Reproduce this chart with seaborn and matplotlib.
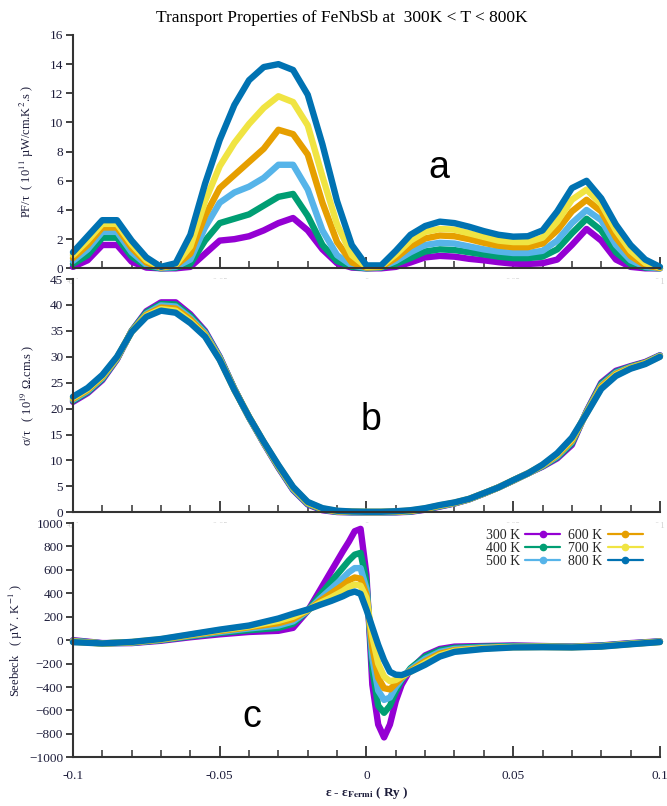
import pandas as pd
import matplotlib
matplotlib.use("Agg")
import matplotlib.pyplot as plt
from matplotlib.lines import Line2D
from matplotlib.ticker import MultipleLocator
import seaborn as sns

# --- DATA ---
TEMPS = ["300 K", "400 K", "500 K", "600 K", "700 K", "800 K"]
COLORS = ["#9400d3", "#009e73", "#56b4e9", "#e69f00", "#f0e442", "#0072b2"]

ENERGY_AB = [-0.1, -0.095, -0.09, -0.085, -0.08, -0.075, -0.07, -0.065, -0.06, -0.055,
             -0.05, -0.045, -0.04, -0.035, -0.03, -0.025, -0.02, -0.015, -0.01, -0.005,
             0.0, 0.005, 0.01, 0.015, 0.02, 0.025, 0.03, 0.035, 0.04, 0.045,
             0.05, 0.055, 0.06, 0.065, 0.07, 0.075, 0.08, 0.085, 0.09, 0.095, 0.1]

# (a) power factor / tau
PF_300 = [0.1, 0.55, 1.6, 1.6, 0.45, 0.05, 0.0, 0.0, 0.1, 1.0, 1.9, 2.0, 2.2, 2.6, 3.1, 3.45,
          2.6, 1.3, 0.35, 0.05, 0.0, 0.0, 0.1, 0.4, 0.75, 0.85, 0.8, 0.65, 0.55, 0.42,
          0.32, 0.3, 0.35, 0.6, 1.6, 2.7, 1.9, 0.6, 0.1, 0.0, 0.0]
PF_400 = [0.3, 0.9, 2.1, 2.1, 0.8, 0.15, 0.0, 0.05, 0.3, 1.9, 3.1, 3.4, 3.7, 4.3, 4.9, 5.1,
          3.6, 1.6, 0.5, 0.1, 0.0, 0.05, 0.3, 0.7, 1.15, 1.3, 1.25, 1.1, 0.95, 0.8,
          0.7, 0.7, 0.8, 1.3, 2.4, 3.4, 2.6, 1.1, 0.3, 0.05, 0.0]
PF_500 = [0.5, 1.3, 2.5, 2.5, 1.1, 0.25, 0.02, 0.1, 0.6, 2.8, 4.5, 5.2, 5.6, 6.2, 7.1, 7.1,
          5.4, 2.6, 0.9, 0.2, 0.02, 0.08, 0.5, 1.1, 1.6, 1.75, 1.7, 1.5, 1.3, 1.15,
          1.05, 1.05, 1.2, 1.9, 3.1, 4.0, 3.3, 1.6, 0.55, 0.1, 0.0]
PF_600 = [0.7, 1.6, 2.8, 2.8, 1.4, 0.4, 0.05, 0.2, 1.0, 3.6, 5.5, 6.4, 7.3, 8.2, 9.5, 9.2,
          7.8, 4.5, 1.8, 0.4, 0.05, 0.1, 0.7, 1.5, 2.05, 2.25, 2.2, 2.0, 1.75, 1.55,
          1.45, 1.45, 1.7, 2.6, 3.9, 4.7, 3.9, 2.1, 0.85, 0.2, 0.02]
PF_700 = [0.9, 1.9, 3.05, 3.05, 1.65, 0.55, 0.08, 0.25, 1.5, 4.6, 7.0, 8.6, 9.9, 11.0, 11.8, 11.4,
          9.8, 6.3, 3.0, 0.9, 0.1, 0.15, 0.95, 1.9, 2.5, 2.7, 2.65, 2.4, 2.15, 1.9,
          1.8, 1.8, 2.1, 3.2, 4.7, 5.4, 4.4, 2.6, 1.2, 0.35, 0.05]
PF_800 = [1.1, 2.2, 3.3, 3.3, 1.9, 0.75, 0.1, 0.35, 2.3, 5.8, 8.8, 11.2, 12.9, 13.8, 14.0, 13.6,
          11.9, 8.5, 4.6, 1.6, 0.2, 0.2, 1.2, 2.3, 2.9, 3.2, 3.1, 2.85, 2.55, 2.3,
          2.17, 2.2, 2.6, 3.9, 5.5, 6.0, 4.8, 3.0, 1.6, 0.6, 0.1]

# (b) electrical conductivity / tau
SIG_300 = [21.3, 23.0, 25.5, 29.5, 35.0, 38.8, 40.5, 40.5, 38.2, 35.0, 30.0, 23.8, 18.3, 13.3,
           8.6, 4.3, 1.5, 0.4, 0.05, 0.0, 0.0, 0.0, 0.0, 0.1, 0.5, 1.1, 1.7, 2.5, 3.6, 4.8,
           6.1, 7.5, 8.8, 10.4, 13.0, 19.5, 25.0, 27.3, 28.2, 29.0, 30.3]
SIG_400 = [21.5, 23.2, 25.7, 29.6, 35.0, 38.6, 40.2, 40.1, 37.9, 34.8, 29.9, 23.8, 18.3, 13.4,
           8.7, 4.4, 1.6, 0.5, 0.1, 0.03, 0.02, 0.02, 0.04, 0.16, 0.56, 1.16, 1.74, 2.52, 3.62, 4.8,
           6.12, 7.5, 8.88, 10.6, 13.3, 19.4, 24.8, 27.1, 28.1, 28.9, 30.24]
SIG_500 = [21.7, 23.4, 25.9, 29.7, 34.9, 38.3, 39.9, 39.7, 37.5, 34.6, 29.8, 23.7, 18.3, 13.4,
           8.8, 4.5, 1.7, 0.56, 0.15, 0.06, 0.04, 0.04, 0.08, 0.22, 0.62, 1.22, 1.78, 2.54, 3.64, 4.8,
           6.14, 7.5, 8.96, 10.8, 13.6, 19.3, 24.5, 26.9, 28.0, 28.8, 30.2]
SIG_600 = [21.9, 23.6, 26.1, 29.8, 34.9, 38.1, 39.5, 39.3, 37.2, 34.3, 29.6, 23.7, 18.4, 13.5,
           8.9, 4.7, 1.8, 0.64, 0.2, 0.09, 0.06, 0.06, 0.12, 0.28, 0.68, 1.28, 1.82, 2.56, 3.66, 4.8,
           6.16, 7.5, 9.04, 11.0, 13.8, 19.2, 24.3, 26.7, 27.9, 28.8, 30.1]
SIG_700 = [22.1, 23.8, 26.3, 29.9, 34.8, 37.9, 39.2, 38.9, 36.8, 34.1, 29.5, 23.6, 18.4, 13.5,
           9.0, 4.8, 1.9, 0.72, 0.25, 0.12, 0.08, 0.08, 0.16, 0.34, 0.74, 1.34, 1.86, 2.58, 3.68, 4.8,
           6.18, 7.5, 9.12, 11.2, 14.1, 19.1, 24.0, 26.5, 27.8, 28.7, 30.06]
SIG_800 = [22.3, 24.0, 26.5, 30.0, 34.8, 37.7, 38.9, 38.5, 36.5, 33.9, 29.4, 23.6, 18.4, 13.6,
           9.1, 4.9, 2.0, 0.8, 0.3, 0.15, 0.1, 0.1, 0.2, 0.4, 0.8, 1.4, 1.9, 2.6, 3.7, 4.8,
           6.2, 7.5, 9.2, 11.4, 14.4, 19.0, 23.8, 26.3, 27.7, 28.6, 30.0]

# (c) Seebeck coefficient (finer grid near the Fermi level)
ENERGY_C = [-0.1, -0.09, -0.08, -0.07, -0.06, -0.05, -0.04, -0.03, -0.025, -0.02,
            -0.016, -0.012, -0.008, -0.006, -0.004, -0.002, 0.0, 0.002, 0.004, 0.006,
            0.008, 0.01, 0.012, 0.015, 0.02, 0.025, 0.03, 0.04, 0.05, 0.06,
            0.07, 0.08, 0.09, 0.1]
S_300 = [0, -25, -25, -5, 25, 50, 70, 80, 105, 250,
         420, 590, 760, 840, 930, 950, 560, -380, -720, -830,
         -720, -520, -380, -250, -130, -75, -55, -50, -45, -50,
         -55, -45, -25, -10]
S_400 = [-5, -27, -22, 0, 32, 62, 85, 105, 140, 250,
         380, 500, 620, 680, 730, 745, 500, -250, -560, -620,
         -560, -440, -340, -240, -140, -85, -65, -55, -50, -52,
         -57, -47, -28, -12]
S_500 = [-8, -27, -20, 3, 38, 70, 100, 125, 160, 250,
         350, 440, 530, 580, 615, 615, 440, -150, -430, -510,
         -490, -400, -330, -250, -160, -100, -75, -62, -55, -55,
         -58, -50, -30, -13]
S_600 = [-11, -28, -18, 5, 42, 78, 110, 145, 180, 255,
         330, 400, 470, 510, 535, 525, 390, -60, -320, -410,
         -420, -370, -320, -260, -180, -115, -85, -68, -58, -57,
         -59, -52, -32, -14]
S_700 = [-14, -28, -16, 8, 46, 85, 118, 165, 200, 258,
         315, 365, 420, 455, 475, 465, 360, 30, -200, -310,
         -350, -340, -310, -270, -195, -128, -92, -70, -60, -58,
         -60, -53, -33, -15]
S_800 = [-17, -28, -15, 10, 50, 90, 125, 185, 225, 262,
         300, 335, 375, 400, 415, 395, 260, 110, -40, -170,
         -270, -295, -298, -270, -210, -140, -100, -75, -62, -60,
         -62, -55, -35, -16]


def long_df(energy, series):
    frames = [pd.DataFrame({"E": energy, "val": vals, "T": t}) for t, vals in zip(TEMPS, series)]
    return pd.concat(frames, ignore_index=True)


df_a = long_df(ENERGY_AB, [PF_300, PF_400, PF_500, PF_600, PF_700, PF_800])
df_b = long_df(ENERGY_AB, [SIG_300, SIG_400, SIG_500, SIG_600, SIG_700, SIG_800])
df_c = long_df(ENERGY_C, [S_300, S_400, S_500, S_600, S_700, S_800])

# --- STYLE ---
sns.set_style("ticks")
plt.rcParams["font.family"] = ["Liberation Serif", "DejaVu Serif"]
plt.rcParams["mathtext.fontset"] = "stix"
TXT = "#1c1c3a"

fig = plt.figure(figsize=(6.67, 8.06), dpi=100)
L, W = 0.1094, 0.880
ax_a = fig.add_axes([L, 0.6671, W, 0.2895])
ax_b = fig.add_axes([L, 0.3644, W, 0.2894])
ax_c = fig.add_axes([L, 0.0604, W, 0.2907])

panels = [
    (ax_a, df_a, (0, 16), 2, "PF/τ  ( 10$^{11}$ µW/cm.K$^{2}$.s )", "a", (0.0245, 6.9)),
    (ax_b, df_b, (0, 45), 5, "σ/τ   ( 10$^{19}$ Ω.cm.s )", "b", (0.0017, 17.8)),
    (ax_c, df_c, (-1000, 1000), 200, "Seebeck   ( µV . K$^{-1}$ )", "c", (-0.039, -660)),
]

for ax, df, ylim, ystep, ylab, letter, lpos in panels:
    sns.lineplot(data=df, x="E", y="val", hue="T", hue_order=TEMPS, palette=COLORS,
                 estimator=None, linewidth=4.6, legend=False, ax=ax)
    for ln in ax.get_lines():
        ln.set_clip_on(False)
        ln.set_solid_capstyle("round")
        ln.set_solid_joinstyle("round")
    ax.set_xlim(-0.1, 0.1)
    ax.set_ylim(*ylim)
    ax.yaxis.set_major_locator(MultipleLocator(ystep))
    ax.xaxis.set_minor_locator(MultipleLocator(0.01))
    ax.set_xticks([-0.1, -0.05, 0, 0.05, 0.1])
    ax.set_xticklabels(["-0.1", "-0.05", "0", "0.05", "0.1"])
    for side in ["top", "right"]:
        ax.spines[side].set_visible(False)
    for side in ["left", "bottom"]:
        ax.spines[side].set_linewidth(1.5)
        ax.spines[side].set_color("#333333")
    ax.tick_params(axis="x", which="major", direction="in", length=8, width=1.3, color="#333333")
    ax.tick_params(axis="x", which="minor", direction="in", length=5, width=1.1, color="#333333")
    ax.tick_params(axis="y", direction="out", length=5, width=1.3, color="#333333",
                   labelsize=9.5, labelcolor=TXT, pad=2)
    ax.set_ylabel(ylab, fontsize=9, color=TXT)
    ax.set_xlabel("")
    ax.text(lpos[0], lpos[1], letter, fontsize=27, family=["Liberation Sans", "DejaVu Sans"],
            ha="center", va="center", color="black")

# faint x tick labels on the upper panels
for ax in (ax_a, ax_b):
    ax.tick_params(axis="x", labelsize=6, labelcolor="#d0d0d0", pad=7)
ax_c.tick_params(axis="x", labelsize=9.5, labelcolor=TXT, pad=9)

ax_a.yaxis.set_label_coords(-0.063, 0.5)
ax_b.yaxis.set_label_coords(-0.063, 0.5)
ax_c.yaxis.set_label_coords(-0.082, 0.5)

ax_c.set_xlabel("ε - ε$_{\\mathbf{Fermi}}$ ( Ry )", fontsize=9.5, fontweight="bold",
                color=TXT, labelpad=2)

handles = [Line2D([], [], color=c, lw=1.6, marker="o", markersize=4.5) for c in COLORS]
ax_c.legend(handles, TEMPS, ncol=2, loc="upper right", bbox_to_anchor=(0.985, 1.01),
            frameon=False, markerfirst=False, fontsize=10, handlelength=2.5,
            handletextpad=0.4, columnspacing=0.6, labelspacing=0.0, borderaxespad=0.2)

fig.text(0.513, 0.978, "Transport Properties of FeNbSb at  300K < T < 800K",
         ha="center", va="center", fontsize=12.5, color="black")

fig.savefig("out.png", dpi=100)
